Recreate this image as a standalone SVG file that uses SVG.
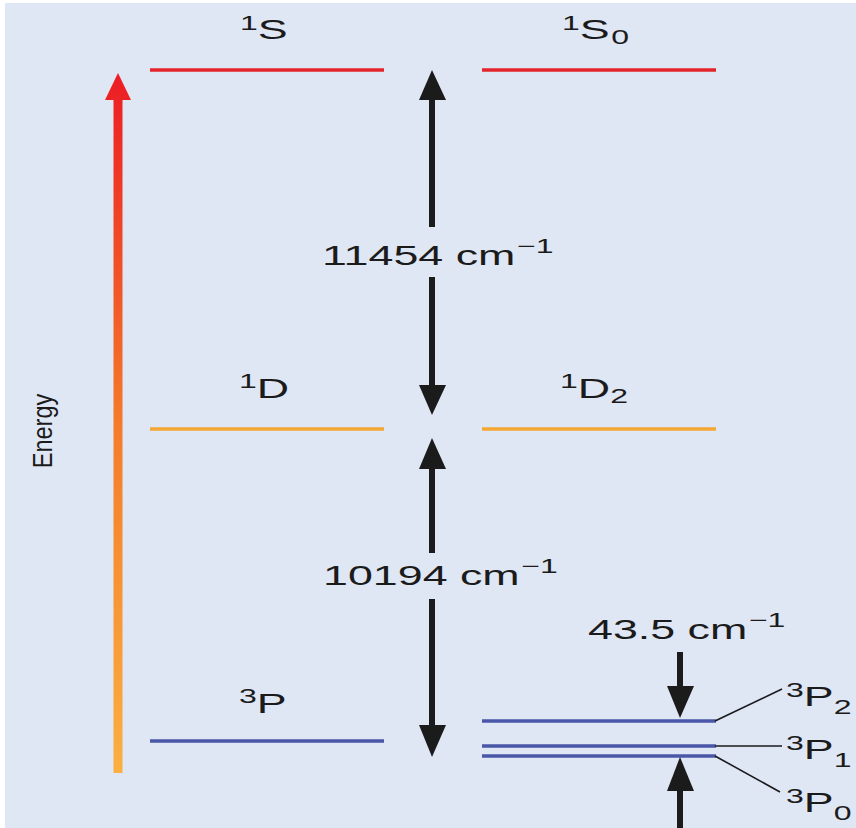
<svg xmlns="http://www.w3.org/2000/svg" width="856" height="828" viewBox="0 0 856 828">
<defs>
<linearGradient id="eg" gradientUnits="userSpaceOnUse" x1="0" y1="73" x2="0" y2="773">
<stop offset="0" stop-color="#ec1c24"/>
<stop offset="0.5" stop-color="#f47b2a"/>
<stop offset="1" stop-color="#fbb040"/>
</linearGradient>
<style>
.lab{font-family:"Liberation Sans",Arial,sans-serif;fill:#1b1b1b;font-size:28px}
.sup{font-size:20px}
.red{stroke:#e3242b;stroke-width:3.5}
.org{stroke:#f5a733;stroke-width:3.5}
.blu{stroke:#4a56a8;stroke-width:3.5}
.shaft{stroke:#1b1b1b;stroke-width:6}
.head{fill:#1b1b1b}
.lead{stroke:#1b1b1b;stroke-width:1.6}
</style>
</defs>
<rect x="0" y="0" width="856" height="828" fill="#ffffff"/>
<rect x="5" y="3" width="851" height="825" fill="#dfe6f4"/>

<g id="energy-axis">
<rect x="113.5" y="99" width="9" height="674" fill="url(#eg)"/>
<polygon points="105,100 118,73 131,100" fill="url(#eg)"/>
<text class="lab" transform="translate(52,431) rotate(-90) scale(0.84,1)" text-anchor="middle" font-size="37">Energy</text>
</g>

<g id="level-1S">
<line class="red" x1="150" y1="70" x2="384" y2="70"/>
<text class="lab" transform="translate(240,39) scale(1.6,1)"><tspan class="sup" dy="-9">1</tspan><tspan dy="9">S</tspan></text>
</g>
<g id="level-1S0">
<line class="red" x1="482" y1="70" x2="716" y2="70"/>
<text class="lab" transform="translate(562,39) scale(1.6,1)"><tspan class="sup" dy="-9">1</tspan><tspan dy="9">S</tspan><tspan class="sup" dx="1" dy="5">0</tspan></text>
</g>
<g id="level-1D">
<line class="org" x1="150" y1="429" x2="384" y2="429"/>
<text class="lab" transform="translate(239,398) scale(1.6,1)"><tspan class="sup" dy="-10">1</tspan><tspan dy="10">D</tspan></text>
</g>
<g id="level-1D2">
<line class="org" x1="482" y1="429" x2="716" y2="429"/>
<text class="lab" transform="translate(560,398) scale(1.6,1)"><tspan class="sup" dy="-10">1</tspan><tspan dy="10">D</tspan><tspan class="sup" dy="5">2</tspan></text>
</g>
<g id="level-3P">
<line class="blu" x1="150" y1="741" x2="384" y2="741"/>
<text class="lab" transform="translate(239,713) scale(1.6,1)"><tspan class="sup" dy="-10">3</tspan><tspan dy="10">P</tspan></text>
</g>
<g id="level-3P2">
<line class="blu" x1="482" y1="721" x2="716" y2="721"/>
<text class="lab" transform="translate(786,706) scale(1.6,1)"><tspan class="sup" dy="-9">3</tspan><tspan dy="9">P</tspan><tspan class="sup" dy="8">2</tspan></text>
</g>
<g id="level-3P1">
<line class="blu" x1="482" y1="746" x2="716" y2="746"/>
<text class="lab" transform="translate(786,759) scale(1.6,1)"><tspan class="sup" dy="-9">3</tspan><tspan dy="9">P</tspan><tspan class="sup" dy="8">1</tspan></text>
</g>
<g id="level-3P0">
<line class="blu" x1="482" y1="756" x2="716" y2="756"/>
<text class="lab" transform="translate(786,812) scale(1.6,1)"><tspan class="sup" dy="-9">3</tspan><tspan dy="9">P</tspan><tspan class="sup" dy="8">0</tspan></text>
</g>

<g id="connectors">
<line class="shaft" x1="432" y1="99" x2="432" y2="227"/>
<line class="shaft" x1="432" y1="277" x2="432" y2="386"/>
<polygon class="head" points="419,100 432,70 446,100"/>
<polygon class="head" points="419,385 432,415 446,385"/>
<text class="lab" transform="translate(322,265) scale(1.6,1)">11454 cm<tspan class="sup" dx="1" dy="-12">−1</tspan></text>

<line class="shaft" x1="432" y1="468" x2="432" y2="553"/>
<line class="shaft" x1="432" y1="599" x2="432" y2="726"/>
<polygon class="head" points="419,469 432,438 446,469"/>
<polygon class="head" points="419,725 432,757 446,725"/>
<text class="lab" transform="translate(323,585) scale(1.6,1)">10194 cm<tspan class="sup" dx="1" dy="-12">−1</tspan></text>

<line class="shaft" x1="680" y1="652" x2="680" y2="687"/>
<polygon class="head" points="667,686 680,718 694,686"/>
<line class="shaft" x1="680" y1="790" x2="680" y2="828"/>
<polygon class="head" points="667,791 680,757 694,791"/>
<text class="lab" transform="translate(588,639) scale(1.6,1)">43.5 cm<tspan class="sup" dx="1" dy="-12">−1</tspan></text>

<line class="lead" x1="715" y1="721" x2="782" y2="689"/>
<line class="lead" x1="715" y1="746" x2="782" y2="746"/>
<line class="lead" x1="715" y1="756" x2="780" y2="792"/>
</g>
</svg>
